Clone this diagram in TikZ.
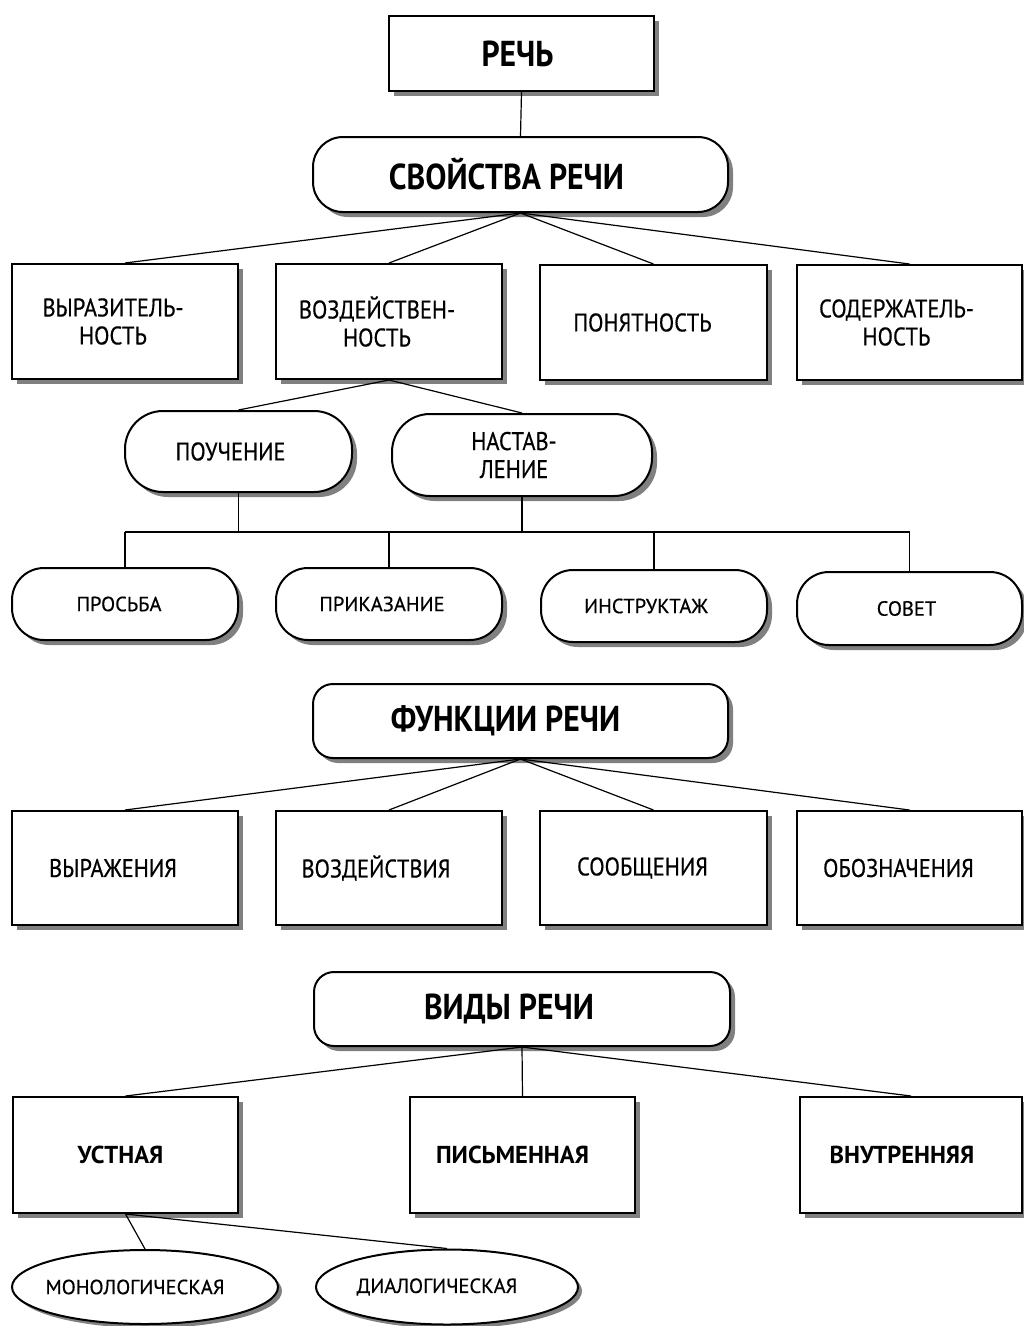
\documentclass[tikz,border=0pt]{standalone}
\usepackage{fontspec}
\setmainfont{PT Sans}
\newfontfamily\condfont{PT Sans}[FakeStretch=0.88]
\newfontfamily\medfont{PT Sans}[FakeBold=0.5]
\newfontfamily\medcond{PT Sans}[FakeStretch=0.88,FakeBold=0.5]
\usetikzlibrary{shapes.geometric,shadows}
\begin{document}
\begin{tikzpicture}[x=1pt,y=-1pt,
  sq/.style={draw, line width=2pt, fill=white, rectangle, inner sep=0pt,
    drop shadow={shadow xshift=5pt, shadow yshift=-5pt, fill=black!50, opacity=1}},
  rnd/.style={sq, rounded corners=#1},
  ell/.style={draw, line width=2pt, fill=white, ellipse, inner sep=0pt,
    drop shadow={shadow xshift=4pt, shadow yshift=-4pt, fill=black!50, opacity=1}},
  con/.style={line width=1.2pt},
  ttl/.style={font=\condfont\bfseries\fontsize{36}{40}\selectfont, align=center},
  mid/.style={font=\medcond\fontsize{25.5}{28}\selectfont, align=center},
  sml/.style={font=\medfont\fontsize{20.5}{24}\selectfont, align=center},
  vb/.style={font=\bfseries\fontsize{24.5}{28}\selectfont, align=center},
  bigbox/.style={sq, minimum width=226pt, minimum height=115pt}
]
\useasboundingbox (0,0) rectangle (1024,1326);

% top
\node[sq, minimum width=265pt, minimum height=75pt, label={[ttl,xshift=-4pt]center:РЕЧЬ}] (rech) at (521.5,53.5) {};
\node[rnd=30pt, minimum width=415pt, minimum height=75pt, label={[ttl,xshift=-14pt]center:СВОЙСТВА РЕЧИ}] (svo) at (520.5,174.5) {};

\node[bigbox, label={[mid,xshift=-12pt]center:ВЫРАЗИТЕЛЬ-\\НОСТЬ}] (b1) at (125,321.5) {};
\node[bigbox, label={[mid,xshift=-12pt]center:ВОЗДЕЙСТВЕН-\\НОСТЬ}] (b2) at (389,321.5) {};
\node[bigbox, minimum width=227pt, label={[mid,xshift=-11pt]center:ПОНЯТНОСТЬ}] (b3) at (653.5,322.5) {};
\node[bigbox, minimum width=225pt, label={[mid,xshift=-13pt]center:СОДЕРЖАТЕЛЬ-\\НОСТЬ}] (b4) at (909.5,322.5) {};

\node[rnd=38pt, minimum width=227pt, minimum height=81pt, label={[mid,xshift=-8pt]center:ПОУЧЕНИЕ}] (pouch) at (238.5,451.5) {};
\node[rnd=38pt, minimum width=260pt, minimum height=82pt, label={[mid,xshift=-8pt]center:НАСТАВ-\\ЛЕНИЕ}] (nast) at (522,455) {};

\node[rnd=32pt, minimum width=226pt, minimum height=72pt, label={[sml,xshift=-6pt]center:ПРОСЬБА}] (pros) at (125,604) {};
\node[rnd=32pt, minimum width=226pt, minimum height=72pt, label={[sml,xshift=-7pt]center:ПРИКАЗАНИЕ}] (prik) at (389,604) {};
\node[rnd=32pt, minimum width=226pt, minimum height=72pt, label={[sml,xshift=-8pt]center:ИНСТРУКТАЖ}] (instr) at (654,606) {};
\node[rnd=32pt, minimum width=225pt, minimum height=73pt, label={[sml,xshift=-3pt]center:СОВЕТ}] (sovet) at (909.5,608.5) {};

% functions
\node[rnd=20pt, minimum width=415pt, minimum height=74pt, label={[ttl,xshift=-15pt]center:ФУНКЦИИ РЕЧИ}] (func) at (520.5,721) {};
\node[bigbox, minimum height=114pt, label={[mid,xshift=-12pt]center:ВЫРАЖЕНИЯ}] (f1) at (125,868) {};
\node[bigbox, minimum height=114pt, label={[mid,xshift=-13pt]center:ВОЗДЕЙСТВИЯ}] (f2) at (389,868) {};
\node[bigbox, minimum width=227pt, minimum height=114pt, label={[mid,xshift=-11pt]center:СООБЩЕНИЯ}] (f3) at (653.5,868) {};
\node[bigbox, minimum width=225pt, minimum height=114pt, label={[mid,xshift=-11pt]center:ОБОЗНАЧЕНИЯ}] (f4) at (909.5,868) {};

% kinds
\node[rnd=20pt, minimum width=416pt, minimum height=74pt, label={[ttl,xshift=-13pt]center:ВИДЫ РЕЧИ}] (vid) at (522,1009) {};
\node[bigbox, minimum width=225pt, minimum height=116pt, label={[vb,xshift=-5pt]center:УСТНАЯ}] (v1) at (125.5,1155) {};
\node[bigbox, minimum width=225pt, minimum height=116pt, label={[vb,xshift=-10pt]center:ПИСЬМЕННАЯ}] (v2) at (522.5,1155) {};
\node[bigbox, minimum width=222pt, minimum height=116pt, label={[vb,xshift=-9pt]center:ВНУТРЕННЯЯ}] (v3) at (911,1155) {};

\node[ell, minimum width=266pt, minimum height=74pt, label={[sml,xshift=-10pt]center:МОНОЛОГИЧЕСКАЯ}] (mono) at (145,1287) {};
\node[ell, minimum width=262pt, minimum height=75pt, label={[sml,xshift=-10pt]center:ДИАЛОГИЧЕСКАЯ}] (dial) at (447,1287) {};

% connectors
\draw[con] (rech.south) -- (svo.north);
\foreach \t in {b1,b2,b3,b4} \draw[con] (svo.south) -- (\t.north);
\draw[con] (b2.south) -- (pouch.north);
\draw[con] (b2.south) -- (nast.north);
\coordinate (bus) at (0,532);
\draw[con] (pouch.south) -- (pouch.south |- bus);
\draw[con] (nast.south) -- (nast.south |- bus);
\draw[con] (pros.north |- bus) -- (sovet.north |- bus);
\foreach \t in {pros,prik,instr,sovet} \draw[con] (\t.north |- bus) -- (\t.north);
\foreach \t in {f1,f2,f3,f4} \draw[con] (func.south) -- (\t.north);
\foreach \t in {v1,v2,v3} \draw[con] (vid.south) -- (\t.north);
\draw[con] (v1.south) -- (mono.north);
\draw[con] (v1.south) -- (dial.north);
\end{tikzpicture}
\end{document}
